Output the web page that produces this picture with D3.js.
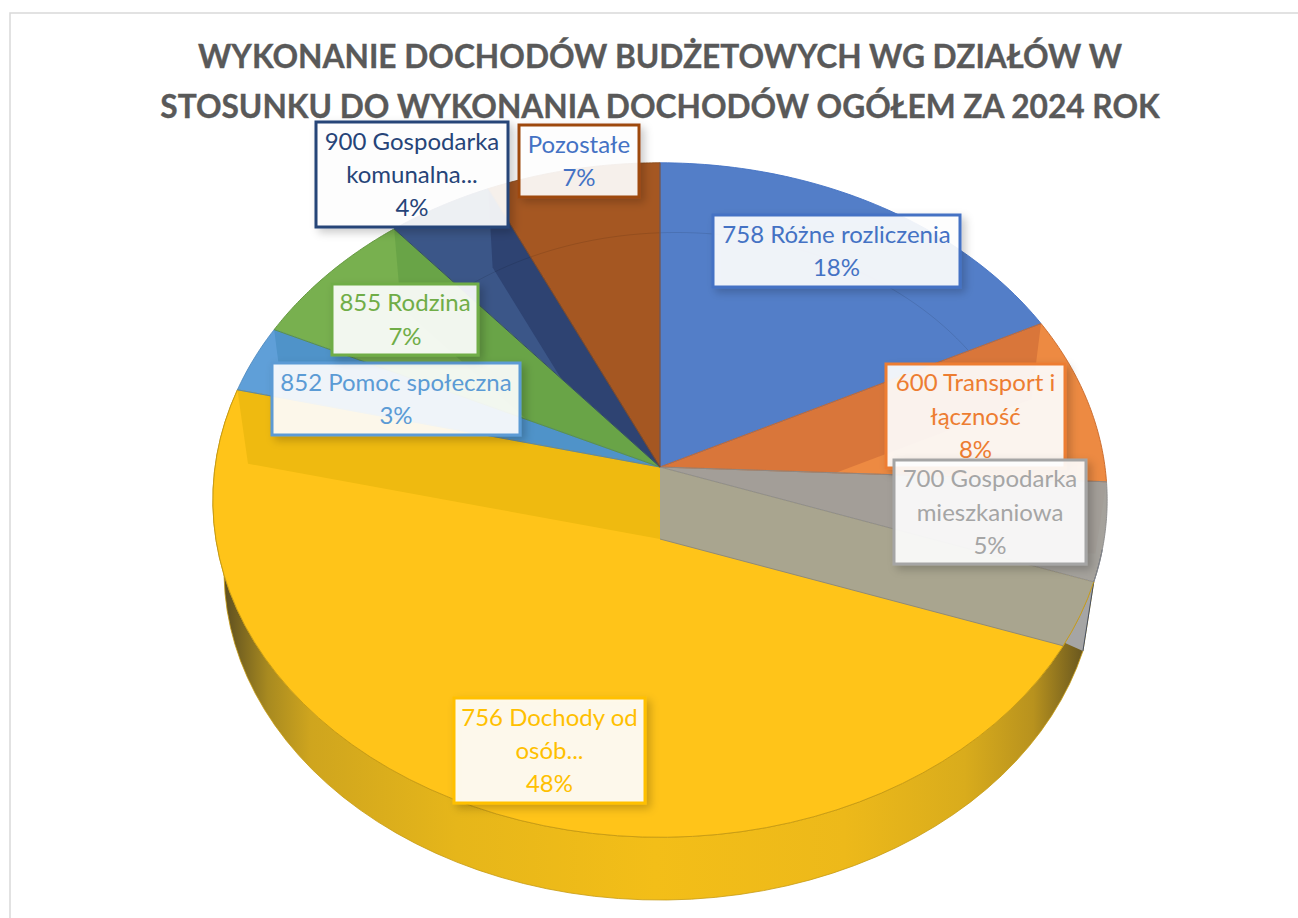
<!DOCTYPE html>
<html lang="pl"><head><meta charset="utf-8">
<script src="https://cdnjs.cloudflare.com/ajax/libs/d3/7.8.5/d3.min.js"></script>
<style>html,body{margin:0;padding:0;background:#fff;overflow:hidden}svg{display:block}
text{font-family:Lato,"Open Sans",sans-serif}</style></head><body>
<svg id="c" width="1298" height="918"></svg>
<script>
// DATA
const titleLines = ["WYKONANIE DOCHODÓW BUDŻETOWYCH WG DZIAŁÓW W","STOSUNKU DO WYKONANIA DOCHODÓW OGÓŁEM ZA 2024 ROK"];
const categories = ["758 Różne rozliczenia","600 Transport i łączność","700 Gospodarka mieszkaniowa","756 Dochody od osób...","852 Pomoc społeczna","855 Rodzina","900 Gospodarka komunalna...","Pozostałe"];
const shares = [17.6,8.1,4.7,48.4,3.25,6.85,4.2,6.9];
const percentLabels = ["18%","8%","5%","48%","3%","7%","4%","7%"];

// STYLE / LAYOUT
const faceColors = ["#537EC8","#ED8A42","#A5A29C","#FFC419","#5F9FD8","#78B04F","#3B5688","#A55722"];
const edgeColors = ["#4472C4","#C9682A","#8A8A8A","#C79A12","#4A86BD","#5E9439","#2E4372","#8A4A1C"];
const labelBorder = ["#4472C4","#ED7D31","#A5A5A5","#FFC000","#5B9BD5","#70AD47","#264478","#9E480E"];
const labelText   = ["#4472C4","#ED7D31","#A5A5A5","#FFC000","#5B9BD5","#70AD47","#264478","#4472C4"];
const labelLines = [["758 Różne rozliczenia"],["600 Transport i","łączność"],["700 Gospodarka","mieszkaniowa"],["756 Dochody od","osób..."],["852 Pomoc społeczna"],["855 Rodzina"],["900 Gospodarka","komunalna..."],["Pozostałe"]];
const labelBoxes = [[713,215,960,287],[886,364,1065,468],[894,460,1086,564],[454,698,645,803],[272,363,520,435],[332,284,478,355],[316,122,508,227],[519,125,639,197]];
const drawOrder = [0,1,2,3,4,5,6,7];

const svg = d3.select("#c"), defs = svg.append("defs");
const cx=660, cy=467, Rx=445, Ry=334, persp=0.098, depthScale=0.975, depthShift=72;
const top3 = (a,r=1)=>{const s=Math.sin(a),c=Math.cos(a),w=1+persp*c;return [cx+r*Rx*s/w, cy-r*Ry*c/w];};
const low3 = (a)=>{const p=top3(a,depthScale);return [p[0],p[1]+depthShift];};
const apex=[cx,cy], apexLow=[cx,cy+depthShift];
const sample=(a0,a1,f)=>d3.range(0,61).map(i=>f(a0+(a1-a0)*i/60));
const line=d3.line();
const poly=pts=>line(pts)+"Z";

const arcs=d3.pie().sort(null).value(d=>d)(shares);

// frame
svg.append("rect").attr("x",10).attr("y",13).attr("width",1400).attr("height",1000).attr("fill","#fff").attr("stroke","#D9D9D9").attr("stroke-width",1.5);

// outer wall of the front slice
const wallGrad=defs.append("linearGradient").attr("id","wall").attr("gradientUnits","userSpaceOnUse").attr("x1",225).attr("x2",1085).attr("y1",0).attr("y2",0);
[[0,"#5f5020"],[.05,"#A88A20"],[.1,"#CFA51E"],[.27,"#E6B61A"],[.5,"#F3BE18"],[.72,"#EDB91A"],[.86,"#D9AC1C"],[.94,"#B8921E"],[1,"#66551F"]].forEach(d=>wallGrad.append("stop").attr("offset",d[0]).attr("stop-color",d[1]));
const yel=arcs[3];
svg.append("path").attr("d",poly([...sample(yel.startAngle,yel.endAngle,a=>top3(a)),...sample(yel.endAngle,yel.startAngle,low3)]))
  .attr("fill","url(#wall)").attr("stroke","#C79A12").attr("stroke-width",.8);

// slice top faces
const sector=d=>poly([apex,...sample(d.startAngle,d.endAngle,a=>top3(a))]);
arcs.forEach((d,i)=>defs.append("clipPath").attr("id","s"+i).append("path").attr("d",sector(d)));
svg.selectAll("path.face").data(arcs).join("path").attr("class","face").attr("d",sector).attr("fill",(d,i)=>faceColors[i]);

// inner walls visible on the top faces
const wall=a=>poly([apex,top3(a),low3(a),apexLow]);
const walls=[
 {i:1,a:arcs[1].startAngle,fill:"#D9763A"},
 {i:2,a:arcs[2].startAngle,fill:"#A39E98"},
 {i:3,a:arcs[3].endAngle,fill:"#EFBA10"},
 {i:3,a:arcs[3].startAngle,fill:"#A9A58F"},
 {i:4,a:arcs[4].endAngle,fill:"#4F93C9"},
 {i:5,a:arcs[5].endAngle,fill:"#69A447"},
 {i:6,a:arcs[6].endAngle,fill:"#2E4372"}
];
svg.selectAll("path.wall").data(walls).join("path").attr("class","wall").attr("d",d=>wall(d.a)).attr("fill",d=>d.fill)
  .attr("clip-path",d=>`url(#s${d.i})`);

// gray sliver outside the rim next to the front slice
const riseEnd=2*Math.PI*0.3335;
svg.append("path").attr("d",poly([...sample(yel.startAngle,riseEnd,a=>top3(a)),low3(yel.startAngle)])).attr("fill","#A5A5A5");
svg.append("path").attr("d",line([...sample(arcs[2].startAngle+0.2,yel.startAngle,a=>top3(a)),low3(yel.startAngle)])).attr("fill","none").attr("stroke","#3a4660").attr("stroke-width",.9);

// ghost arc of the lower rim
const ghostStart=arcs[5].endAngle, ghostEnd=2*Math.PI+arcs[0].endAngle;
svg.append("path").attr("d",line(sample(ghostStart,ghostEnd,a=>top3(a,0.77+0.04*(a-2*Math.PI)/arcs[0].endAngle)))).attr("fill","none").attr("stroke","#000").attr("stroke-opacity",.1).attr("stroke-width",1);

// slice outlines (the front slice only along its rim and left edge)
svg.selectAll("path.edge").data(arcs).join("path").attr("class","edge")
  .attr("d",(d,i)=>i===3?line([...sample(d.startAngle,d.endAngle,a=>top3(a)),apex]):sector(d)).attr("fill","none")
  .attr("stroke",(d,i)=>edgeColors[i]).attr("stroke-width",1).attr("stroke-opacity",.9);
svg.append("path").attr("d",line([apexLow,low3(yel.startAngle)])).attr("stroke","#8f8a78").attr("fill","none").attr("clip-path","url(#s3)");

// title
svg.selectAll("text.title").data(titleLines).join("text").attr("class","title")
  .attr("x",660).attr("y",(d,i)=>68+i*50).attr("text-anchor","middle").attr("fill","#595959")
  .attr("font-size",31.7).attr("font-weight",700).attr("stroke","#595959").attr("stroke-width",.35).text(d=>d);

// labels
const f=defs.append("filter").attr("id","sh").attr("x","-20%").attr("y","-20%").attr("width","140%").attr("height","150%");
f.append("feDropShadow").attr("dx",4).attr("dy",4).attr("stdDeviation",4).attr("flood-color","#000").attr("flood-opacity",.22);
drawOrder.forEach(i=>{
  const [x0,y0,x1,y1]=labelBoxes[i], g=svg.append("g");
  g.append("rect").attr("x",x0).attr("y",y0).attr("width",x1-x0).attr("height",y1-y0)
    .attr("fill","#fff").attr("fill-opacity",.9).attr("stroke",labelBorder[i]).attr("stroke-width",3).attr("filter","url(#sh)");
  const lines=[...labelLines[i],percentLabels[i]], mid=(y0+y1)/2, lh=33.2;
  g.selectAll("text").data(lines).join("text").attr("x",(x0+x1)/2).attr("y",(d,k)=>mid+(k-(lines.length-1)/2)*lh+8.5)
    .attr("text-anchor","middle").attr("font-size",24).attr("fill",labelText[i]).text(d=>d);
});
</script></body></html>
